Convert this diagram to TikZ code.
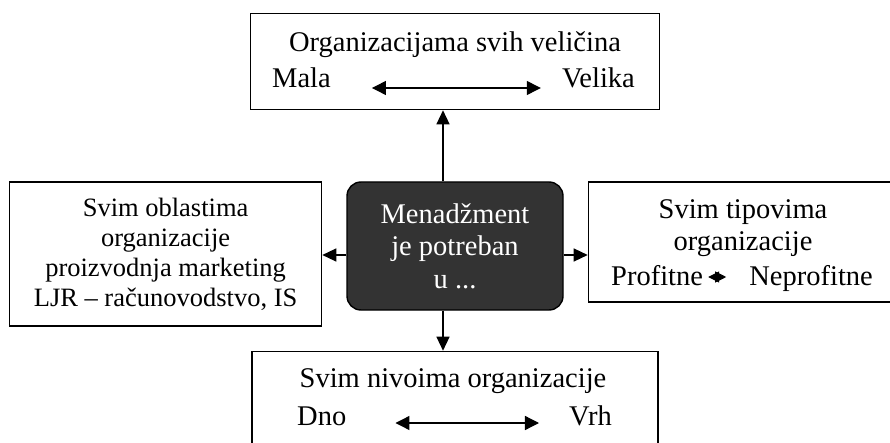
\documentclass[tikz,border=0pt]{standalone}
\usepackage{fontspec}
\setmainfont{Liberation Serif}
\usetikzlibrary{arrows.meta,positioning}
\tikzset{
    block/.style   = {draw, line width=1.4pt, fill=white, rectangle, inner sep=0pt, align=center, font=\fontsize{26.5}{30}\selectfont},
    hub/.style     = {draw, line width=1.4pt, fill=black!80, rounded corners=14pt, text=white, align=center,
                      minimum width=216pt, minimum height=128pt, font=\fontsize{28.5}{32.5}\selectfont},
    txt/.style     = {inner sep=0pt, anchor=base, font=\fontsize{28.5}{32}\selectfont},
    link/.style    = {-{Triangle[length=14pt,width=13pt]}, line width=1.3pt},
    twoway/.style  = {{Triangle[length=14pt,width=14pt]}-{Triangle[length=14pt,width=14pt]}, line width=1.3pt},
    minitwo/.style = {{Triangle[length=11pt,width=11pt]}-{Triangle[length=11pt,width=11pt]}, line width=1pt}
}
\begin{document}
\begin{tikzpicture}[x=1pt, y=1pt, node distance=24pt]
    \useasboundingbox (0,0) rectangle (890,442);
    \node [hub] (menadzment) at (455,196) {Menadžment\\je potreban\\u ...};
    \node [block, minimum width=409pt, minimum height=96pt, above=71pt of menadzment] (velicine) {};
    \node [block, minimum width=312pt, minimum height=144pt, left=of menadzment.north west, anchor=north east] (oblasti)
        {Svim oblastima\\organizacije\\proizvodnja marketing\\LJR – računovodstvo, IS};
    \node [block, minimum width=302pt, minimum height=120pt, right=of menadzment.north east, anchor=north west] (tipovi) {};
    \node [block, minimum width=406pt, minimum height=96pt, below=40pt of menadzment] (nivoi) {};

    % tekst u okvirima
    \node [txt] (velicineT) at (455,390) {Organizacijama svih veličina};
    \node [txt, anchor=base west] (mala) at (272,354) {Mala};
    \node [txt, anchor=base east] (velika) at (635,354) {Velika};
    \node [txt] (tipoviA) at (743,223) {Svim tipovima};
    \node [txt] (tipoviB) at (743,192) {organizacije};
    \node [txt, anchor=base west] (profitne) at (611,157) {Profitne};
    \node [txt, anchor=base east] (neprofitne) at (873,157) {Neprofitne};
    \node [txt] (nivoiT) at (453,55) {Svim nivoima organizacije};
    \node [txt, anchor=base west] (dno) at (297,17) {Dno};
    \node [txt, anchor=base east] (vrh) at (612,17) {Vrh};

    \coordinate (up)    at ([xshift=-12pt]menadzment.north);
    \coordinate (down)  at ([xshift=-12pt]menadzment.south);
    \coordinate (west)  at ([yshift=-9pt]menadzment.west);
    \coordinate (east)  at ([yshift=-9pt]menadzment.east);

    \draw [link] (up) -- (up |- velicine.south);
    \draw [link] (down) -- (down |- nivoi.north);
    \draw [link] (west) -- (west -| oblasti.east);
    \draw [link] (east) -- (east -| tipovi.west);

    \draw [twoway] ([xshift=41pt]mala.base east) -- ([xshift=-21pt]velika.base west);
    \draw [twoway] ([xshift=49pt,yshift=2pt]dno.base east) -- ([xshift=-30pt,yshift=2pt]vrh.base west);
    \draw [minitwo] ([xshift=5pt,yshift=8pt]profitne.base east) -- ([xshift=23pt,yshift=8pt]profitne.base east);
\end{tikzpicture}
\end{document}
